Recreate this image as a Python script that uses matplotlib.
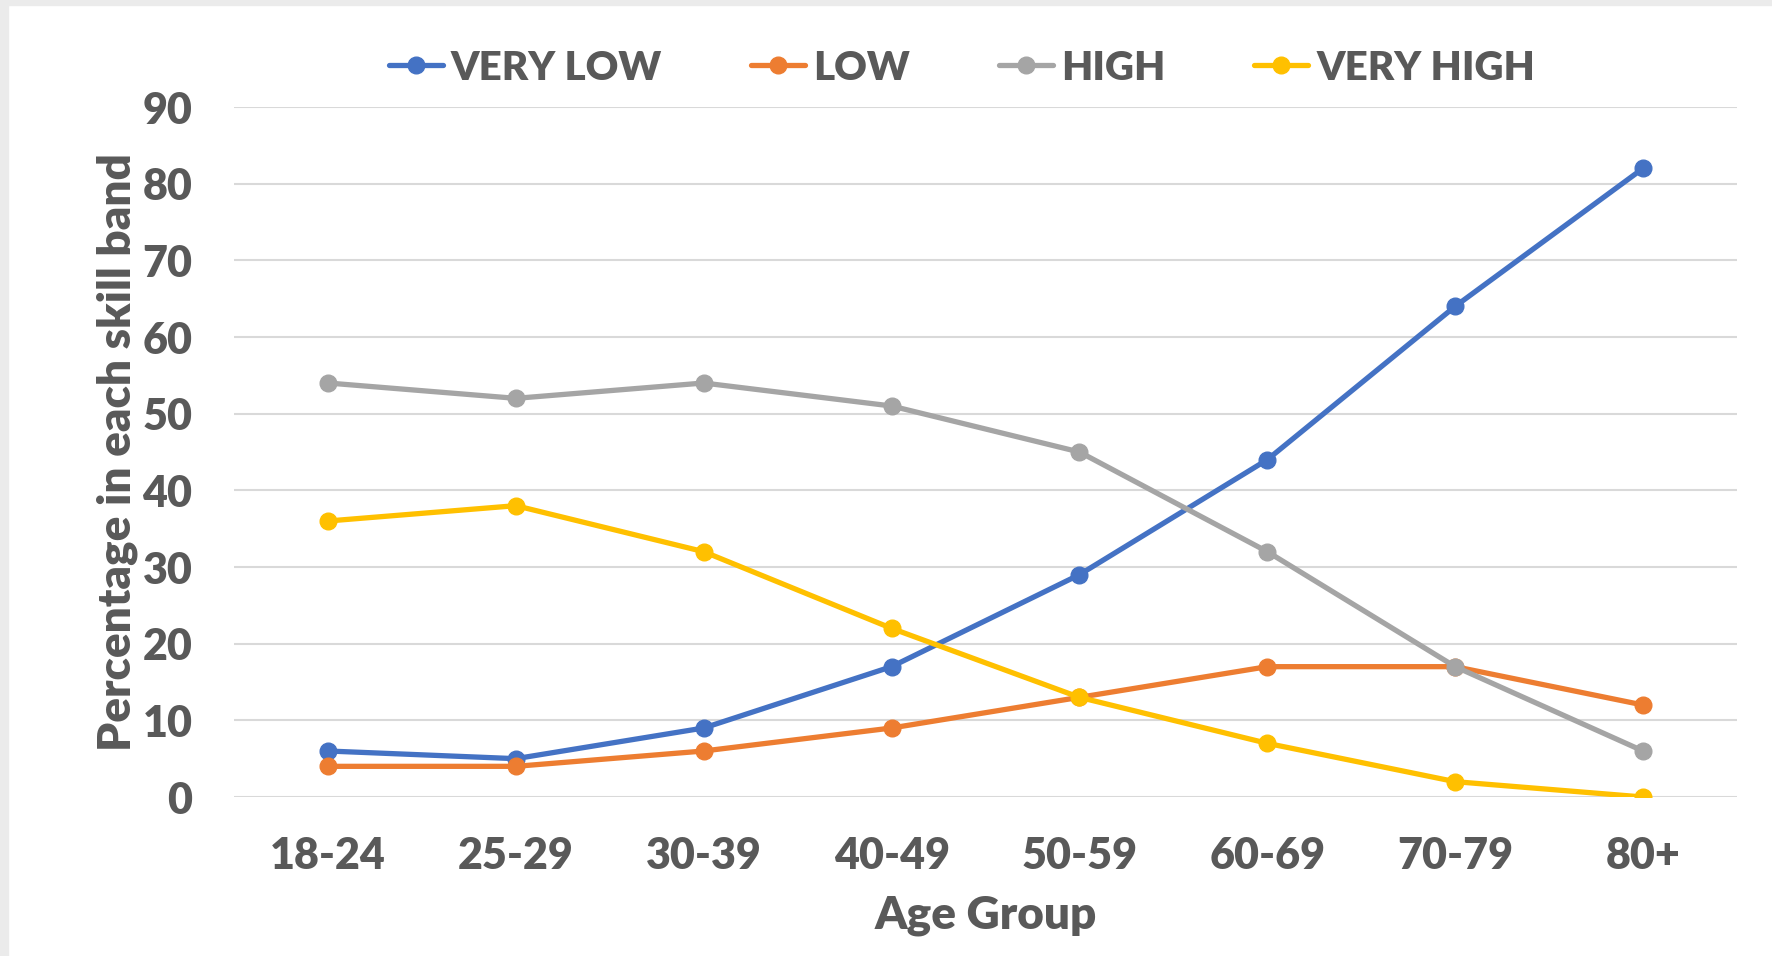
import matplotlib.pyplot as plt
from matplotlib.patches import Rectangle

# Age bands and the share of people in each skill band (%)
age_groups = ["18-24", "25-29", "30-39", "40-49", "50-59", "60-69", "70-79", "80+"]
very_low = [6, 5, 9, 17, 29, 44, 64, 82]
low = [4, 4, 6, 9, 13, 17, 17, 12]
high = [54, 52, 54, 51, 45, 32, 17, 6]
very_high = [36, 38, 32, 22, 13, 7, 2, 0]

series_names = ["VERY LOW", "LOW", "HIGH", "VERY HIGH"]
series_colors = ["#4472C4", "#ED7D31", "#A5A5A5", "#FFC000"]
text_color = "#595959"

plt.rcParams["font.family"] = ["Lato", "DejaVu Sans"]
plt.rcParams["font.weight"] = "heavy"

fig = plt.figure(figsize=(17.72, 9.56), dpi=100)
ax = fig.add_axes([234 / 1772, 1 - 797 / 956, (1737 - 234) / 1772, (797 - 107) / 956])

# Light grey frame along the top and left edges
fig.patches.append(Rectangle((0, 0), 8 / 1772, 1, transform=fig.transFigure,
                             color="#EBEBEB", zorder=-1))
fig.patches.append(Rectangle((0, 1 - 5 / 956), 1, 5 / 956, transform=fig.transFigure,
                             color="#EBEBEB", zorder=-1))

x = list(range(len(age_groups)))
for values, name, color in zip([very_low, low, high, very_high], series_names, series_colors):
    ax.plot(x, values, color=color, linewidth=3.8, marker="o", markersize=12,
            label=name, solid_capstyle="round", zorder=3)

ax.set_xlim(-0.5, len(age_groups) - 0.5)
ax.set_ylim(0, 90)
ax.set_yticks(range(0, 91, 10))
ax.set_xticks(x)
ax.set_xticklabels(age_groups)
ax.tick_params(axis="both", length=0, labelsize=31, colors=text_color)
ax.tick_params(axis="y", pad=30)
ax.tick_params(axis="x", pad=28)

ax.grid(axis="y", color="#D9D9D9", linewidth=1.5)
ax.set_axisbelow(True)
for spine in ax.spines.values():
    spine.set_visible(False)

ax.set_xlabel("Age Group", fontsize=33, color=text_color, fontweight="heavy", labelpad=14)
ax.set_ylabel("Percentage in each skill band", fontsize=33, color=text_color,
              fontweight="heavy", labelpad=3)

fig.legend(loc="center", bbox_to_anchor=(962 / 1772, 1 - 68 / 956), ncol=4,
           frameon=False, fontsize=29, handlelength=1.35, handletextpad=0.2,
           columnspacing=2.2, labelcolor=text_color)

fig.savefig("out.png", dpi=100)
